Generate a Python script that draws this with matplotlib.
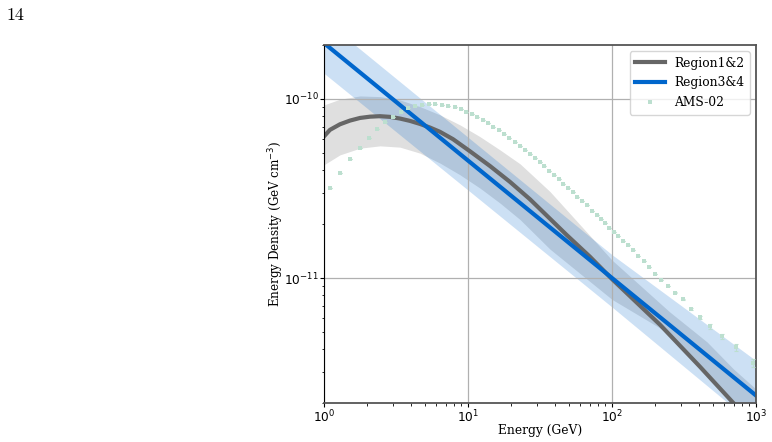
import numpy as np
import matplotlib
matplotlib.use('Agg')
from matplotlib import pyplot as plt

# AMS-02 points (GeV, GeV cm^-3)
ams_e = [1.106, 1.298, 1.523, 1.770, 2.044, 2.334, 2.652, 3.015, 3.409, 3.849,
         4.305, 4.793, 5.360, 5.930, 6.598, 7.297, 8.06, 8.87, 9.68, 10.61,
         11.60, 12.65, 13.77, 14.99, 16.34, 17.78, 19.36, 21.10, 22.97, 24.88,
         26.96, 29.20, 31.47, 33.88, 36.52, 39.56, 42.65, 45.90, 49.49, 53.35,
         57.41, 61.90, 66.73, 72.27, 78.3, 83.9, 89.4, 95.8, 103.2, 110.6,
         119.2, 128.5, 139.2, 152.3, 166.0, 181.6, 199.8, 220.0, 242.9, 273.8,
         308.8, 353.8, 408.4, 479.3, 578.0, 726.3, 957.9]
ams_n = [3.18e-11, 3.88e-11, 4.61e-11, 5.31e-11, 6.06e-11, 6.78e-11, 7.41e-11, 7.96e-11, 8.46e-11, 8.87e-11,
         9.14e-11, 9.29e-11, 9.38e-11, 9.38e-11, 9.29e-11, 9.18e-11, 8.99e-11, 8.76e-11, 8.50e-11, 8.25e-11,
         7.94e-11, 7.67e-11, 7.35e-11, 7.01e-11, 6.72e-11, 6.38e-11, 6.08e-11, 5.78e-11, 5.49e-11, 5.21e-11,
         4.95e-11, 4.69e-11, 4.45e-11, 4.21e-11, 3.98e-11, 3.77e-11, 3.57e-11, 3.37e-11, 3.19e-11, 3.02e-11,
         2.85e-11, 2.70e-11, 2.55e-11, 2.38e-11, 2.25e-11, 2.13e-11, 2.03e-11, 1.91e-11, 1.81e-11, 1.71e-11,
         1.61e-11, 1.52e-11, 1.43e-11, 1.33e-11, 1.24e-11, 1.15e-11, 1.06e-11, 9.78e-12, 9.06e-12, 8.28e-12,
         7.60e-12, 6.72e-12, 6.06e-12, 5.37e-12, 4.72e-12, 4.10e-12, 3.36e-12]
ams_err = [0.0] * 59 + [0.05e-12, 0.08e-12, 0.10e-12, 0.12e-12, 0.15e-12, 0.13e-12, 0.16e-12, 0.18e-12]

# Region1&2 model curve and band
r12_e = [1.0, 1.10, 1.291, 1.515, 1.778, 2.086, 2.448, 2.871, 3.371, 3.954,
         4.642, 5.447, 6.39, 7.87, 10.33, 14.22, 19.59, 26.98, 48.42, 70.3,
         100.0, 215.4, 408.0, 695.0, 1000.0]
r12_n = [6.18e-11, 6.72e-11, 7.22e-11, 7.57e-11, 7.83e-11, 7.96e-11, 8.01e-11, 7.94e-11, 7.77e-11, 7.54e-11,
         7.25e-11, 6.92e-11, 6.55e-11, 5.96e-11, 5.10e-11, 4.22e-11, 3.44e-11, 2.75e-11, 1.74e-11, 1.315e-11,
         9.87e-12, 5.49e-12, 3.20e-12, 2.01e-12, 1.46e-12]
r12_band_e = [1.0, 1.29, 1.78, 2.45, 3.37, 4.64, 6.40, 8.80, 12.1, 16.7,
              23.0, 37.1, 100.0, 250.0, 457.0, 700.0, 1000.0]
r12_hi = [9.26e-11, 9.96e-11, 1.039e-10, 1.030e-10, 9.87e-11, 9.06e-11, 8.14e-11, 7.16e-11, 6.16e-11, 5.19e-11,
          4.34e-11, 3.04e-11, 1.26e-11, 6.5e-12, 4.4e-12, 3.1e-12, 2.4e-12]
r12_lo = [4.29e-11, 4.87e-11, 5.31e-11, 5.47e-11, 5.38e-11, 4.98e-11, 4.38e-11, 3.77e-11, 3.18e-11, 2.62e-11,
          2.12e-11, 1.45e-11, 7.6e-12, 4.9e-12, 3.0e-12, 1.9e-12, 1.3e-12]

# Region3&4 power law and band
r34_e = [1.0, 1000.0]
r34_n = [2.05e-10, 2.21e-12]
r34_band_e = [1.0, 10.0, 100.0, 1000.0]
r34_hi = [2.77e-10, 6.11e-11, 1.35e-11, 3.46e-12]
r34_lo = [1.39e-10, 3.10e-11, 6.89e-12, 1.49e-12]

fig = plt.figure(figsize=(7.72, 4.42), dpi=100)
ax = fig.add_axes([0.4197, 0.0876, 0.5596, 0.8106])

ax.fill_between(r12_band_e, r12_lo, r12_hi, color='gray', alpha=0.25, lw=0)
ax.fill_between(r34_band_e, r34_lo, r34_hi, color='#0066cc', alpha=0.2, lw=0)
ax.plot(r12_e, r12_n, color='#666666', lw=3, label='Region1&2')
ax.plot(r34_e, r34_n, color='#0066cc', lw=3, label='Region3&4')
ax.errorbar(ams_e, ams_n, yerr=ams_err, fmt='none', ecolor='#bcdfcf',
            elinewidth=0.8, capsize=1.5, capthick=0.8, zorder=5)
ax.plot(ams_e, ams_n, 's', ms=2.3, color='#bcdfcf', mew=0, label='AMS-02', zorder=6)

ax.set_xscale('log')
ax.set_yscale('log')
ax.set_xlim(1, 1000)
ax.set_ylim(2e-12, 2e-10)
ax.grid(True, which='major', color='#b0b0b0', lw=0.9)
ax.tick_params(labelsize=8.7, pad=0.8, length=3.0)
ax.tick_params(which='minor', length=1.8, labelleft=False, labelbottom=False)
for s in ['top', 'right', 'bottom']:
    ax.spines[s].set_color('#555555')
    ax.spines[s].set_linewidth(1.3)

ax.set_xlabel('Energy (GeV)', family='DejaVu Serif', fontsize=8.8, labelpad=-1)
ax.set_ylabel('Energy Density (GeV cm$^{-3}$)', family='DejaVu Serif', fontsize=8.6, labelpad=-1.5)

leg = ax.legend(loc='upper right', prop={'family': 'DejaVu Serif', 'size': 8.8},
                handlelength=2.4, borderpad=0.45, labelspacing=0.55, markerscale=1.2)

fig.text(0.008, 0.955, '14', family='cmr10', fontsize=13)

fig.savefig('out.png', dpi=100)
